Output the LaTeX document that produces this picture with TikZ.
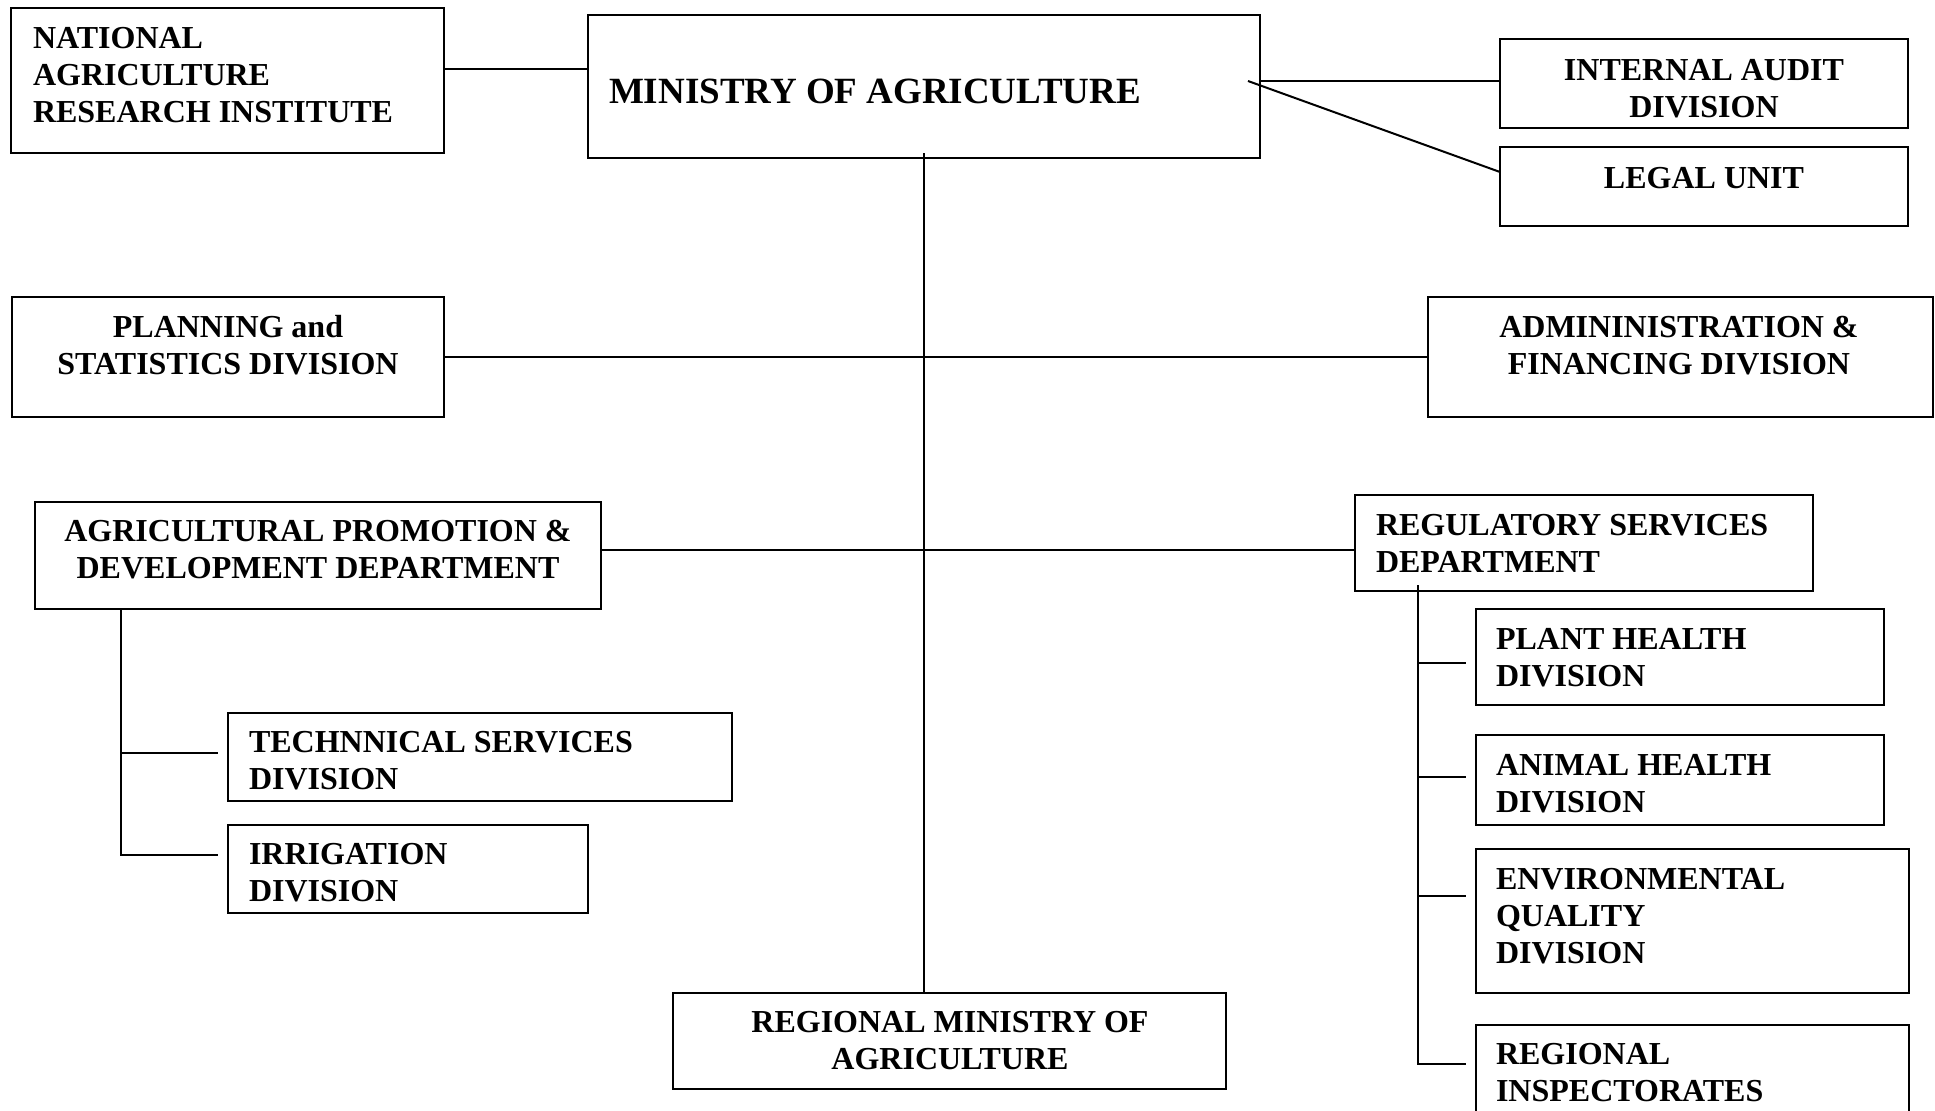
\documentclass[tikz,border=0pt]{standalone}
\usepackage{fontspec}
\setmainfont{Liberation Serif}
\usetikzlibrary{calc}
\newcommand\lefttext[1]{\vtop{\halign{##\hfil\cr#1\crcr}}}
\newcommand\centtext[1]{\vtop{\halign{\hfil##\hfil\cr#1\crcr}}}
\newcommand\mkbox[5]{\node[orgbox, minimum width={(#4-#2)*0.5pt}, minimum height={(#5-#3)*0.5pt}] (#1) at ({(#2+#4)/2},{(#3+#5)/2}) {};}
\begin{document}
\begin{tikzpicture}[x=0.5pt,y=-0.5pt, line width=1pt,
  orgbox/.style={draw, rectangle, inner sep=0pt, outer sep=0pt},
  lbl/.style={inner sep=0pt, font=\bfseries\fontsize{16}{18.5}\selectfont},
  bigl/.style={inner sep=0pt, font=\bfseries\fontsize{18.5}{21}\selectfont}]
\useasboundingbox (0,0) rectangle (1935,1110);
\clip (0,0) rectangle (1935,1110);
\fill[white] (0,0) rectangle (1935,1110);
% boxes
\mkbox{nari}{11}{8}{444}{153}
\mkbox{min}{588}{15}{1260}{158}
\mkbox{aud}{1500}{39}{1908}{128}
\mkbox{leg}{1500}{147}{1908}{226}
\mkbox{plan}{12}{297}{444}{417}
\mkbox{adm}{1428}{297}{1933}{417}
\mkbox{apd}{35}{502}{601}{609}
\mkbox{rsd}{1355}{495}{1813}{591}
\mkbox{tech}{228}{713}{732}{801}
\mkbox{irr}{228}{825}{588}{913}
\mkbox{rmin}{673}{993}{1226}{1089}
\mkbox{plant}{1476}{609}{1884}{705}
\mkbox{anim}{1476}{735}{1884}{825}
\mkbox{env}{1476}{849}{1909}{993}
\mkbox{rins}{1476}{1025}{1909}{1140}
% texts
\node[lbl, anchor=base west] (nari-t) at (32,48) {\lefttext{NATIONAL\cr AGRICULTURE\cr RESEARCH INSTITUTE}};
\node[bigl, anchor=base west] (min-t) at (608,103) {MINISTRY OF AGRICULTURE};
\node[lbl, anchor=base] (aud-t) at (1704,80) {\centtext{INTERNAL AUDIT\cr DIVISION}};
\node[lbl, anchor=base] (leg-t) at (1704,188) {LEGAL UNIT};
\node[lbl, anchor=base] (plan-t) at (228,337) {\centtext{PLANNING and\cr STATISTICS DIVISION}};
\node[lbl, anchor=base] (adm-t) at (1679,337) {\centtext{ADMININISTRATION \&\cr FINANCING DIVISION}};
\node[lbl, anchor=base] (apd-t) at (318,541) {\centtext{AGRICULTURAL PROMOTION \&\cr DEVELOPMENT DEPARTMENT}};
\node[lbl, anchor=base west] (rsd-t) at (1375,535) {\lefttext{REGULATORY SERVICES\cr DEPARTMENT}};
\node[lbl, anchor=base west] (tech-t) at (248,752) {\lefttext{TECHNNICAL SERVICES\cr DIVISION}};
\node[lbl, anchor=base west] (irr-t) at (248,864) {\lefttext{IRRIGATION\cr DIVISION}};
\node[lbl, anchor=base] (rmin-t) at (950,1032) {\centtext{REGIONAL MINISTRY OF\cr AGRICULTURE}};
\node[lbl, anchor=base west] (plant-t) at (1495,649) {\lefttext{PLANT HEALTH\cr DIVISION}};
\node[lbl, anchor=base west] (anim-t) at (1495,775) {\lefttext{ANIMAL HEALTH\cr DIVISION}};
\node[lbl, anchor=base west] (env-t) at (1495,889) {\lefttext{ENVIRONMENTAL\cr QUALITY\cr DIVISION}};
\node[lbl, anchor=base west] (rins-t) at (1495,1064) {\lefttext{REGIONAL\cr INSPECTORATES}};
% connectors
\coordinate (c1) at (0,69);
\draw (nari.east |- c1) -- (min.west |- c1);
\coordinate (hub) at (1248,81);
\draw (min.east |- hub) -- (aud.west |- hub);
\draw (hub) -- ($(leg.north west)+(0,25)$);
\coordinate (trtop) at (924,153);
\draw (trtop) -- (trtop |- rmin.north);
\draw (plan.east) -- (adm.west);
\coordinate (c2) at (0,550);
\draw (apd.east |- c2) -- (rsd.west |- c2);
% APD subtree
\coordinate (ax) at (121,0);
\coordinate (ab1) at (218,753);
\coordinate (ab2) at (218,855);
\draw (apd.south -| ax) |- (ab2);
\draw (ax |- ab1) -- (ab1);
% RSD subtree
\coordinate (rx) at (1418,585);
\coordinate (rb1) at (1466,663);
\coordinate (rb2) at (1466,777);
\coordinate (rb3) at (1466,896);
\coordinate (rb4) at (1466,1064);
\draw (rx) |- (rb4);
\draw (rx |- rb1) -- (rb1);
\draw (rx |- rb2) -- (rb2);
\draw (rx |- rb3) -- (rb3);
\end{tikzpicture}
\end{document}
